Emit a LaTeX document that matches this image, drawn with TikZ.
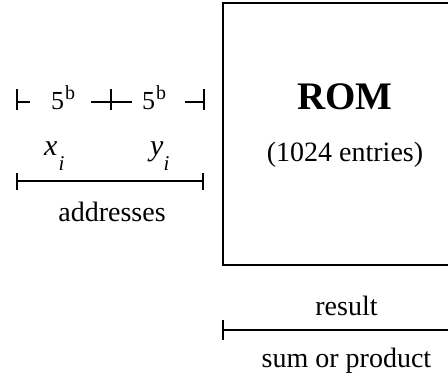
\documentclass[tikz,border=0pt]{standalone}
\usepackage{fontspec}
\setmainfont{Liberation Serif}
\begin{document}
\begin{tikzpicture}[x=1pt,y=-1pt,
  dimline/.style={line width=1.2pt},
  lbl/.style={inner sep=0pt,anchor=base,font=\fontsize{28}{33}\selectfont},
  fieldlbl/.style={inner sep=0pt,anchor=base west,font=\fontsize{26}{30}\selectfont},
  oplbl/.style={inner sep=0pt,anchor=base west,font=\fontsize{30}{35}\selectfont}]
\useasboundingbox (0,0) rectangle (448,379);
% ROM box, running past the right edge
\begin{scope}
\clip (0,0) rectangle (448,379);
\draw[line width=2pt] (223,3.5) rectangle (470,265.5);
\end{scope}
\node[lbl,font=\fontsize{39}{44}\selectfont\bfseries] (rom) at (345,110) {ROM};
\node[lbl] (ent) at (345,162) {(1024 entries)};
% field widths of the two address halves
\coordinate (tl) at (17,102);
\coordinate (tm) at (111,102);
\coordinate (tr) at (204,102);
\node[fieldlbl] (fa) at (51,110) {5\kern1pt\raisebox{10pt}{\fontsize{20}{23}\selectfont b}};
\node[fieldlbl] (fb) at (142,110) {5\kern1pt\raisebox{10pt}{\fontsize{20}{23}\selectfont b}};
\foreach \c in {tl,tm,tr}
  \draw[dimline] ([yshift=13]\c) -- ([yshift=-8]\c);
\draw[dimline] (tl) -- ++(13,0);
\draw[dimline] ([xshift=-20]tm) -- ([xshift=21]tm);
\draw[dimline] (tr) -- ++(-19,0);
% operand labels
\node[oplbl] (xi) at (44,156)
  {\textit{x}\kern1pt\raisebox{-15pt}{\fontsize{21}{24}\selectfont\textit{i}}};
\node[oplbl] (yi) at (150,156)
  {\textit{y}\raisebox{-15pt}{\fontsize{21}{24}\selectfont\textit{i}}};
% address bracket
\coordinate (al) at (17,181);
\coordinate (ar) at (203,181);
\draw[dimline] (al) -- (ar);
\draw[dimline] ([yshift=8]al) -- ([yshift=-9]al);
\draw[dimline] ([yshift=8]ar) -- ([yshift=-9]ar);
\node[lbl] (addr) at (112,222) {addresses};
% result bracket
\coordinate (rl) at (223,330);
\coordinate (rr) at (448,330);
\draw[dimline] (rl) -- (rr);
\draw[dimline] ([yshift=10]rl) -- ([yshift=-10]rl);
\node[lbl] (res) at (346.5,316) {result};
\node[lbl] (sop) at (346.5,368) {sum or product};
\end{tikzpicture}
\end{document}
